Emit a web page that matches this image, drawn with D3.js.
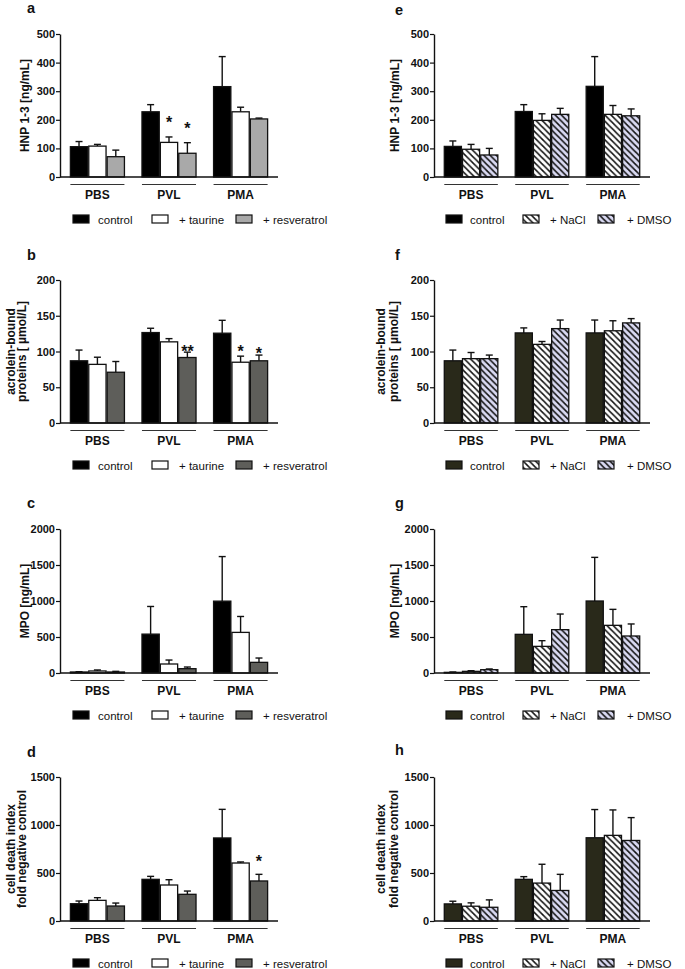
<!DOCTYPE html>
<html><head><meta charset="utf-8">
<script src="https://cdn.jsdelivr.net/npm/d3@7/dist/d3.min.js"></script>
<style>
html,body{margin:0;padding:0;background:#fff;}
svg text{font-family:"Liberation Sans",Arial,Helvetica,sans-serif;fill:#111;}
</style></head>
<body>
<svg id="chart" width="685" height="969"></svg>
<script>
// ---------- DATA ----------
const groups = ["PBS", "PVL", "PMA"];
const seriesLeft = ["control", "+ taurine", "+ resveratrol"];
const seriesRight = ["control", "+ NaCl", "+ DMSO"];

// HNP 1-3 [ng/mL]
const aMean = [[106, 108, 71], [228, 121, 83], [316, 228, 203]];
const aSem  = [[18, 6, 23], [25, 19, 37], [105, 16, 3]];
const eMean = [[107, 97, 77], [229, 198, 219], [317, 219, 214]];
const eSem  = [[19, 17, 23], [24, 23, 21], [104, 31, 24]];
const hnpTicks = [0, 100, 200, 300, 400, 500];

// acrolein-bound proteins [µmol/L]
const bMean = [[87, 82, 71], [126.5, 113.5, 91.6], [125.6, 85, 87]];
const bSem  = [[15, 10, 15], [6, 4.5, 7.5], [18, 8.5, 8]];
const fMean = [[87, 90, 90], [126, 110, 132], [126, 129, 140]];
const fSem  = [[15, 8.6, 5], [7, 4, 12], [18, 14, 6]];
const acrTicks = [0, 50, 100, 150, 200];

// MPO [ng/mL]
const cMean = [[14, 28, 14], [540, 125, 60], [998, 564, 148]];
const cSem  = [[4, 14, 9], [384, 55, 23], [619, 221, 60]];
const gMean = [[9, 23, 46], [537, 370, 602], [1000, 662, 514]];
const gSem  = [[5, 9, 10], [384, 79, 217], [606, 222, 167]];
const mpoTicks = [0, 500, 1000, 1500, 2000];

// cell death index
const dMean = [[180, 215, 156], [434, 375, 278], [865, 604, 417]];
const dSem  = [[28, 28, 31], [31, 55, 34], [298, 11, 69]];
const hMean = [[178, 154, 143], [434, 395, 318], [867, 892, 839]];
const hSem  = [[28, 35, 77], [28, 196, 168], [294, 265, 238]];
const cdiTicks = [0, 500, 1000, 1500];

// significance marks: group, series index, level (data units), label
const aStars = [{g: "PVL", s: 1, at: 203, t: "*"}, {g: "PVL", s: 2, at: 182, t: "*"}];
const bStars = [{g: "PVL", s: 2, at: 105, t: "**"}, {g: "PMA", s: 1, at: 105, t: "*"}, {g: "PMA", s: 2, at: 102, t: "*"}];
const dStars = [{g: "PMA", s: 2, at: 656, t: "*"}];

// ---------- LAYOUT / STYLE ----------
const svg = d3.select("#chart");
const defs = svg.append("defs");
function hatch(id, bg) {
  const k = 6.2;
  const p = defs.append("pattern").attr("id", id).attr("patternUnits", "userSpaceOnUse")
    .attr("width", k).attr("height", k);
  p.append("rect").attr("width", k).attr("height", k).attr("fill", bg);
  p.append("path").attr("d", `M0,0L${k},${k}M-1,${k - 1}L1,${k + 1}M${k - 1},-1L${k + 1},1`)
    .attr("stroke", "#111").attr("stroke-width", 1.5);
}
hatch("hatchW", "#ffffff");
hatch("hatchL", "#d9d9f2");

const cols = [
  {x0: 60, x1: 278, letterX: 27, swX: [73, 152, 236], txX: [98, 179, 263], t1: -31, t2: [-45, -34]},
  {x0: 434, x1: 650, letterX: 395, swX: [446, 523, 598], txX: [470, 550, 627], t1: -35, t2: [-49, -36]}
];
const rows = [{top: 34, bot: 177}, {top: 280, bot: 423}, {top: 529, bot: 673}, {top: 777, bot: 921}];

const panels = [
  {letter: "a", col: 0, row: 0, lb: 12.5, mean: aMean, sem: aSem, ticks: hnpTicks, title: ["HNP 1-3 [ng/mL]"],
   series: seriesLeft, fills: ["#000", "#fff", "#a9a9a9"], stars: aStars},
  {letter: "b", col: 0, row: 1, lb: 260, mean: bMean, sem: bSem, ticks: acrTicks, title: ["acrolein-bound", "proteins [ \u00b5mol/L]"],
   series: seriesLeft, fills: ["#000", "#fff", "#5e5e5a"], stars: bStars},
  {letter: "c", col: 0, row: 2, lb: 508, mean: cMean, sem: cSem, ticks: mpoTicks, title: ["MPO [ng/mL]"],
   series: seriesLeft, fills: ["#000", "#fff", "#5e5e5a"], stars: []},
  {letter: "d", col: 0, row: 3, lb: 757, mean: dMean, sem: dSem, ticks: cdiTicks, title: ["cell death index", "fold negative control"],
   series: seriesLeft, fills: ["#000", "#fff", "#5e5e5a"], stars: dStars},
  {letter: "e", col: 1, row: 0, lb: 15, mean: eMean, sem: eSem, ticks: hnpTicks, title: ["HNP 1-3 [ng/mL]"],
   series: seriesRight, fills: ["#000", "url(#hatchW)", "url(#hatchL)"], stars: []},
  {letter: "f", col: 1, row: 1, lb: 260, mean: fMean, sem: fSem, ticks: acrTicks, title: ["acrolein-bound", "proteins [ \u00b5mol/L]"],
   series: seriesRight, fills: ["#29291a", "url(#hatchW)", "url(#hatchL)"], stars: []},
  {letter: "g", col: 1, row: 2, lb: 508, mean: gMean, sem: gSem, ticks: mpoTicks, title: ["MPO [ng/mL]"],
   series: seriesRight, fills: ["#29291a", "url(#hatchW)", "url(#hatchL)"], stars: []},
  {letter: "h", col: 1, row: 3, lb: 755, mean: hMean, sem: hSem, ticks: cdiTicks, title: ["cell death index", "fold negative control"],
   series: seriesRight, fills: ["#29291a", "url(#hatchW)", "url(#hatchL)"], stars: []}
];

panels.forEach(p => {
  const C = cols[p.col], R = rows[p.row];
  const g = svg.append("g");
  const y = d3.scaleLinear().domain([0, d3.max(p.ticks)]).range([R.bot, R.top]);
  const x = d3.scaleBand().domain(groups).range([C.x0, C.x1]).paddingInner(0.245).paddingOuter(0.145);
  const xi = d3.scaleBand().domain(d3.range(p.series.length)).range([0, x.bandwidth()]).paddingInner(0.06);

  // letter
  g.append("text").attr("x", C.letterX).attr("y", p.lb).attr("font-size", 14.5).attr("font-weight", "bold").text(p.letter);

  // bars
  groups.forEach((grp, gi) => {
    p.series.forEach((s, si) => {
      const m = p.mean[gi][si], e = p.sem[gi][si];
      const bx = x(grp) + xi(si), bw = xi.bandwidth(), cx = bx + bw / 2;
      g.append("line").attr("x1", cx).attr("x2", cx).attr("y1", y(m)).attr("y2", y(m + e))
        .attr("stroke", "#111").attr("stroke-width", 1.4);
      g.append("line").attr("x1", cx - 3.5).attr("x2", cx + 3.5).attr("y1", y(m + e)).attr("y2", y(m + e))
        .attr("stroke", "#111").attr("stroke-width", 1.4);
      g.append("rect").attr("x", bx).attr("y", y(m)).attr("width", bw).attr("height", Math.max(0, y(0) - y(m)))
        .attr("fill", p.fills[si]).attr("stroke", "#111").attr("stroke-width", 1.3);
    });
    // group underline + label
    g.append("line").attr("x1", x(grp)).attr("x2", x(grp) + x.bandwidth()).attr("y1", R.bot + 7.5).attr("y2", R.bot + 7.5)
      .attr("stroke", "#333").attr("stroke-width", 1);
    g.append("text").attr("x", x(grp) + x.bandwidth() / 2).attr("y", R.bot + 22).attr("text-anchor", "middle")
      .attr("font-size", 12).attr("font-weight", "bold").text(grp);
  });

  // stars
  p.stars.forEach(st => {
    const cx = x(st.g) + xi(st.s) + xi.bandwidth() / 2;
    g.append("text").attr("x", cx).attr("y", y(st.at) + 9).attr("text-anchor", "middle")
      .attr("font-size", 16).attr("font-weight", "bold").text(st.t);
  });

  // axes
  const ax = g.append("g").attr("transform", `translate(${C.x0},0)`)
    .call(d3.axisLeft(y).tickValues(p.ticks).tickFormat(d3.format("d")).tickSize(4).tickSizeOuter(0).tickPadding(1));
  ax.select(".domain").attr("stroke", "#111").attr("stroke-width", 1.4);
  ax.selectAll(".tick line").attr("stroke", "#111").attr("stroke-width", 1.2);
  ax.selectAll(".tick text").attr("font-size", 11).attr("font-weight", "bold").attr("fill", "#111")
    .attr("font-family", "Liberation Sans, Arial, sans-serif");
  g.append("line").attr("x1", C.x0).attr("x2", C.x1).attr("y1", R.bot).attr("y2", R.bot)
    .attr("stroke", "#111").attr("stroke-width", 1.4);

  // y title
  const yc = (R.top + R.bot) / 2;
  const offs = p.title.length === 1 ? [C.t1] : C.t2;
  p.title.forEach((t, i) => {
    g.append("text").attr("transform", `translate(${C.x0 + offs[i]},${yc}) rotate(-90)`)
      .attr("text-anchor", "middle").attr("font-size", 12).attr("font-weight", "bold").text(t);
  });

  // legend
  const ly = R.bot + 42;
  p.series.forEach((s, si) => {
    g.append("rect").attr("x", C.swX[si]).attr("y", ly - 4).attr("width", 16).attr("height", 8)
      .attr("fill", p.fills[si]).attr("stroke", "#111").attr("stroke-width", 1.2);
    g.append("text").attr("x", C.txX[si]).attr("y", ly + 4.5).attr("font-size", 11.5).text(s);
  });
});
</script>
</body></html>
